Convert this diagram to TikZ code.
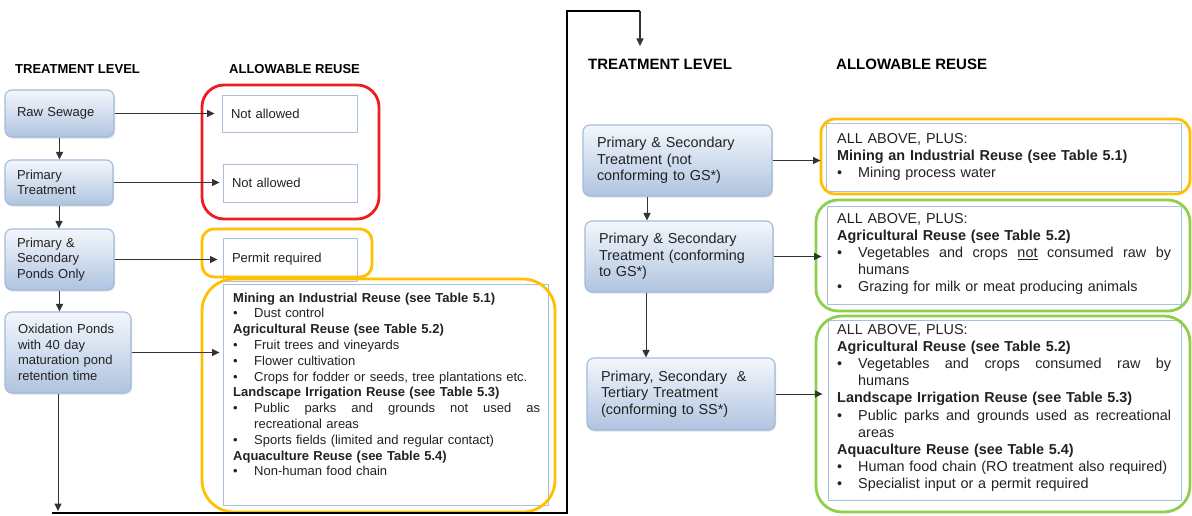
\documentclass[tikz,border=0pt]{standalone}
\usepackage{fontspec}
\setmainfont{Liberation Sans}
\usetikzlibrary{arrows,arrows.meta,shadows}

\definecolor{tbtop}{HTML}{F4F7FC}
\definecolor{tbbot}{HTML}{AFC4E0}
\definecolor{tbline}{HTML}{A2BBDB}
\definecolor{rbline}{HTML}{A8C0E0}
\definecolor{redgrp}{HTML}{EE1C25}
\definecolor{ylwgrp}{HTML}{FFC000}
\definecolor{grngrp}{HTML}{8FCF4C}
\definecolor{txtgray}{HTML}{222222}
\definecolor{arrgray}{HTML}{333333}

\newcommand{\itembul}{\makebox[21pt][l]{\textbullet}}
\newcommand{\itemcont}{\hspace*{21pt}}
% a line spread over the given width
\newcommand{\spreadline}[2]{\makebox[#1][s]{\spaceskip=.278em plus 1fil\relax #2}}

\begin{document}
\begin{tikzpicture}[x=1pt, y=-1pt, >={Triangle[length=7.5pt,width=7pt]},
  treat/.style={draw=tbline, line width=1.1pt, rounded corners=7pt,
    top color=tbtop, bottom color=tbbot,
    drop shadow={opacity=.25, shadow xshift=1pt, shadow yshift=-1.5pt},
    align=left, inner xsep=0pt, text=txtgray, font=\fontsize{13}{15.5}\selectfont},
  treatR/.style={treat, font=\fontsize{14.4}{16.5}\selectfont},
  reuse/.style={draw=rbline, line width=.9pt, fill=white, align=left,
    inner xsep=0pt, text=txtgray, font=\fontsize{13}{15.8}\selectfont},
  lst/.style={anchor=base west, align=left, inner sep=0pt, text=txtgray,
    font=\fontsize{13}{15.8}\selectfont},
  lstR/.style={lst, font=\fontsize{14.4}{17.2}\selectfont},
  hdr/.style={anchor=base west, inner sep=0pt, text=black,
    font=\bfseries\fontsize{#1}{#1}\selectfont},
  grp/.style={line width=2.8pt, rounded corners=#1},
  flowarrow/.style={->, draw=arrgray, line width=1pt},
  returnline/.style={draw=black, line width=1.8pt}]

  \fill[white] (0,0) rectangle (1192,515);
  \useasboundingbox (0,0) rectangle (1192,515);

  % left column
  \node[hdr=13] (hdrtl) at (15,73.5) {TREATMENT LEVEL};
  \node[hdr=13] (hdrar) at (229,73.5) {ALLOWABLE REUSE};

  \node[treat, minimum width=109pt, minimum height=47pt, text width=85pt] (raw) at (59.5,113.5) {Raw Sewage};
  \node[treat, minimum width=108pt, minimum height=45pt, text width=84pt] (prim) at (59,182.5) {Primary\\Treatment};
  \node[treat, minimum width=109pt, minimum height=61pt, text width=85pt] (ponds) at (59.5,259.5) {Primary \&\\Secondary\\Ponds Only};
  \node[treat, minimum width=126pt, minimum height=81pt, text width=100pt] (oxid) at (68,352.5) {Oxidation Ponds\\with 40 day\\maturation pond\\retention time};

  \node[reuse, minimum width=135pt, minimum height=37pt, text width=117pt] (na1) at (289.5,113.5) {Not allowed};
  \node[reuse, minimum width=134pt, minimum height=38pt, text width=116pt] (na2) at (290,183) {Not allowed};
  \node[reuse, minimum width=134pt, minimum height=43pt, text width=116pt] (permit) at (290,259.5) {Permit required};
  \node[reuse, minimum width=325pt, minimum height=221pt] (lst1) at (385.5,394.5) {};
  \node[lst, text width=307pt] (lst1txt) at (233,302) {%
    {\bfseries Mining an Industrial Reuse (see Table 5.1)}\\
    \itembul Dust control\\
    {\bfseries Agricultural Reuse (see Table 5.2)}\\
    \itembul Fruit trees and vineyards\\
    \itembul Flower cultivation\\
    \itembul Crops for fodder or seeds, tree plantations etc.\\
    {\bfseries Landscape Irrigation Reuse (see Table 5.3)}\\
    \itembul\spreadline{286pt}{Public parks and grounds not used as}\\
    \itemcont recreational areas\\
    \itembul Sports fields (limited and regular contact)\\
    {\bfseries Aquaculture Reuse (see Table 5.4)}\\
    \itembul Non-human food chain};

  \draw[grp=22pt, redgrp] (202,85) rectangle (379,219);
  \draw[grp=12pt, ylwgrp] (202,229) rectangle (372,277);
  \draw[grp=32pt, ylwgrp] (202,279) rectangle (555,512);

  \draw[flowarrow] (raw.south) -- (raw.south |- prim.north);
  \draw[flowarrow] (prim.south) -- (prim.south |- ponds.north);
  \draw[flowarrow] (ponds.south) -- (ponds.south |- oxid.north);
  \draw[flowarrow, shorten >=7pt] (raw.east) -- (raw.east -| na1.west);
  \draw[flowarrow, shorten >=3pt] (prim.east) -- (prim.east -| na2.west);
  \draw[flowarrow, shorten >=5pt] (ponds.east) -- (ponds.east -| permit.west);
  \draw[flowarrow, shorten >=3pt] (oxid.east) -- (oxid.east -| lst1.west);

  % link to the right column
  \coordinate (loopa) at (52,513);
  \coordinate (loopb) at (567,513);
  \coordinate (loopc) at (567,11);
  \coordinate (loopd) at (640,11);
  \draw[flowarrow, shorten >=2pt] ([xshift=-10pt]oxid.south) -- ([xshift=-10pt]oxid.south |- loopa);
  \draw[returnline] (loopa) -- (loopb) -- (loopc) -- (loopd);

  % right column
  \node[hdr=15] (hdrtl2) at (588,69.5) {TREATMENT LEVEL};
  \node[hdr=15] (hdrar2) at (836,69.5) {ALLOWABLE REUSE};
  \draw[flowarrow, line width=1.3pt, shorten >=13pt] (loopd) -- (loopd |- hdrtl2.north);

  \node[treatR, minimum width=189pt, minimum height=71pt, text width=161pt] (tr1) at (677.5,160.5) {Primary \& Secondary\\Treatment (not\\conforming to GS*)};
  \node[treatR, minimum width=188pt, minimum height=71pt, text width=160pt] (tr2) at (679,256.5) {Primary \& Secondary\\Treatment (conforming\\to GS*)};
  \node[treatR, minimum width=188pt, minimum height=72pt, text width=160pt] (tr3) at (681,394) {Primary, Secondary\ \ \&\\Tertiary Treatment\\(conforming to SS*)};

  \node[reuse, minimum width=355pt, minimum height=68pt] (ra) at (1003.5,157) {};
  \node[lstR, text width=336pt] (ratxt) at (837,143) {%
    ALL ABOVE, PLUS:\\
    {\bfseries Mining an Industrial Reuse (see Table 5.1)}\\
    \itembul Mining process water};

  \node[reuse, minimum width=354pt, minimum height=98pt] (rb) at (1004,255) {};
  \node[lstR, text width=336pt] (rbtxt) at (837,223) {%
    ALL ABOVE, PLUS:\\
    {\bfseries Agricultural Reuse (see Table 5.2)}\\
    \itembul\spreadline{313pt}{Vegetables and crops \underline{not} consumed raw by}\\
    \itemcont humans\\
    \itembul Grazing for milk or meat producing animals};

  \node[reuse, minimum width=353pt, minimum height=180pt] (rc) at (1004.5,410) {};
  \node[lstR, text width=336pt] (rctxt) at (837,334) {%
    ALL ABOVE, PLUS:\\
    {\bfseries Agricultural Reuse (see Table 5.2)}\\
    \itembul\spreadline{313pt}{Vegetables and crops consumed raw by}\\
    \itemcont humans\\
    {\bfseries Landscape Irrigation Reuse (see Table 5.3)}\\
    \itembul\spreadline{313pt}{Public parks and grounds used as recreational}\\
    \itemcont areas\\
    {\bfseries Aquaculture Reuse (see Table 5.4)}\\
    \itembul Human food chain (RO treatment also required)\\
    \itembul Specialist input or a permit required};

  \draw[grp=14pt, ylwgrp] (821,119) rectangle (1190,194);
  \draw[grp=22pt, grngrp] (816,200) rectangle (1190,311);
  \draw[grp=26pt, grngrp] (816,316) rectangle (1190,512);

  \draw[flowarrow] ([xshift=-30.5pt]tr1.south) -- ([xshift=-30.5pt]tr1.south |- tr2.north);
  \draw[flowarrow] ([xshift=-33pt]tr2.south) -- ([xshift=-33pt]tr2.south |- tr3.north);
  \draw[flowarrow, shorten >=5pt] (tr1.east) -- (tr1.east -| ra.west);
  \draw[flowarrow, shorten >=5pt] (tr2.east) -- (tr2.east -| rb.west);
  \draw[flowarrow, shorten >=5pt] (tr3.east) -- (tr3.east -| rc.west);
\end{tikzpicture}
\end{document}
